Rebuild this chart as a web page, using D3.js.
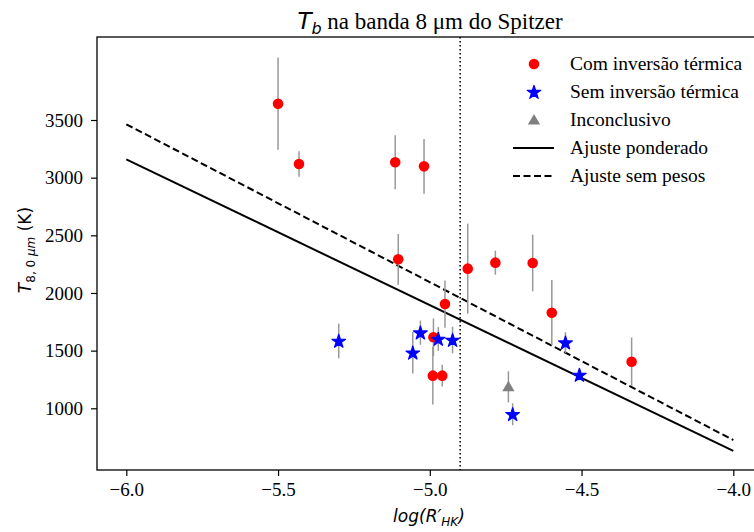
<!DOCTYPE html>
<html><head><meta charset="utf-8">
<script src="https://cdn.jsdelivr.net/npm/d3@7"></script>
<style>body{margin:0;background:#fff}svg{display:block}</style>
</head><body>
<script>
const comX = [-5.50, -5.431, -5.114, -5.019, -5.104, -4.875, -4.784, -4.950, -4.988, -4.990, -4.959, -4.661, -4.598, -4.335];
const comY = [3641, 3118, 3133, 3098, 2292, 2211, 2263, 1904, 1616, 1283, 1283, 2260, 1829, 1404];
const comErr = [400, 110, 234, 237, 220, 390, 104, 205, 163, 250, 95, 246, 283, 210];
const semX = [-5.300, -5.031, -5.056, -4.972, -4.925, -4.727, -4.553, -4.507];
const semY = [1584, 1656, 1482, 1601, 1592, 948, 1569, 1289];
const semErr = [150, 105, 180, 103, 115, 95, 90, 40];
const incX = [-4.741];
const incY = [1187];
const incErr = [135];
const fitX = [-6, -4];
const fitPond = [3159, 630];
const fitSem = [3463, 725];
const vlineX = -4.9;
const xTicks = [-6.0, -5.5, -5.0, -4.5, -4.0];
const yTicks = [1000, 1500, 2000, 2500, 3000, 3500];
const legendLabels = ["Com inversão térmica", "Sem inversão térmica", "Inconclusivo", "Ajuste ponderado", "Ajuste sem pesos"];

(function () {
const W = 754, H = 532;
const mL = 97, mR = 763, mT = 37, mB = 470;
const x = d3.scaleLinear().domain([-6, -4]).range([126.3, 733.3]);
const y = d3.scaleLinear().domain([1000, 3500]).range([408.3, 120]);

const svg = d3.select("body").append("svg").attr("width", W).attr("height", H);
svg.append("defs").append("clipPath").attr("id", "clip")
  .append("rect").attr("x", mL).attr("y", mT).attr("width", mR - mL).attr("height", mB - mT);

const serif = "'Liberation Serif','Times New Roman',serif";
const sans = "'DejaVu Sans',sans-serif";

const plot = svg.append("g").attr("clip-path", "url(#clip)");

plot.append("line").attr("x1", x(vlineX)).attr("x2", x(vlineX)).attr("y1", mT).attr("y2", mB)
  .attr("stroke", "#000").attr("stroke-width", 1.5).attr("stroke-dasharray", "1.5,2.5");

const line = d3.line().x(d => x(d[0])).y(d => y(d[1]));
plot.append("path").datum(fitX.map((v, i) => [v, fitPond[i]])).attr("d", line)
  .attr("fill", "none").attr("stroke", "#000").attr("stroke-width", 2);
plot.append("path").datum(fitX.map((v, i) => [v, fitSem[i]])).attr("d", line)
  .attr("fill", "none").attr("stroke", "#000").attr("stroke-width", 2).attr("stroke-dasharray", "7,3.5");

function errbars(xs, ys, es) {
  plot.append("g").selectAll("line").data(xs.map((v, i) => [v, ys[i], es[i]])).join("line")
    .attr("x1", d => x(d[0])).attr("x2", d => x(d[0]))
    .attr("y1", d => y(d[1] - d[2])).attr("y2", d => y(d[1] + d[2]))
    .attr("stroke", "#999").attr("stroke-width", 1.5);
}
errbars(comX, comY, comErr);
errbars(semX, semY, semErr);
errbars(incX, incY, incErr);

const star = d3.symbol().type(d3.symbolStar).size(58)();
const tri = d3.symbol().type(d3.symbolTriangle).size(65)();

plot.append("g").selectAll("circle").data(comX.map((v, i) => [v, comY[i]])).join("circle")
  .attr("cx", d => x(d[0])).attr("cy", d => y(d[1])).attr("r", 5.3).attr("fill", "#ff0000");
plot.append("g").selectAll("path").data(semX.map((v, i) => [v, semY[i]])).join("path")
  .attr("d", star).attr("transform", d => `translate(${x(d[0])},${y(d[1]) + 0.5})`)
  .attr("fill", "#0000ff").attr("stroke", "#0000ff").attr("stroke-width", 1.2).attr("stroke-linejoin", "round");
plot.append("g").selectAll("path").data(incX.map((v, i) => [v, incY[i]])).join("path")
  .attr("d", tri).attr("transform", d => `translate(${x(d[0])},${y(d[1]) + 1})`).attr("fill", "#808080");

const xAxis = svg.append("g").attr("transform", `translate(0,${mB})`)
  .call(d3.axisBottom(x).tickValues(xTicks).tickSize(6).tickPadding(4).tickFormat(d => d3.format(".1f")(d).replace("-", "\u2212")));
const yAxis = svg.append("g").attr("transform", `translate(${mL},0)`)
  .call(d3.axisLeft(y).tickValues(yTicks).tickSize(6).tickPadding(8).tickFormat(d3.format("d")));
[xAxis, yAxis].forEach(a => {
  a.select(".domain").remove();
  a.selectAll("line").attr("stroke", "#000").attr("stroke-width", 1.2);
  a.selectAll("text").attr("font-family", serif).attr("font-size", 19).attr("fill", "#000");
});
xAxis.selectAll("text").attr("dy", "0.85em");

svg.append("rect").attr("x", mL).attr("y", mT).attr("width", mR - mL).attr("height", mB - mT)
  .attr("fill", "none").attr("stroke", "#000").attr("stroke-width", 1.3);

const title = svg.append("text").attr("x", 430).attr("y", 29).attr("text-anchor", "middle")
  .attr("font-family", serif).attr("font-size", 23);
title.append("tspan").attr("font-family", sans).attr("font-style", "italic").text("T");
title.append("tspan").attr("font-family", sans).attr("font-style", "italic").attr("font-size", 16).attr("dy", 5).text("b");
title.append("tspan").attr("dy", -5).text(" na banda 8 \u03bcm do Spitzer");

const xl = svg.append("text").attr("x", 429).attr("y", 522).attr("text-anchor", "middle")
  .attr("font-family", sans).attr("font-style", "italic").attr("font-size", 17);
xl.append("tspan").text("log(R\u2032");
xl.append("tspan").attr("font-size", 12).attr("dy", 3.5).text("HK");
xl.append("tspan").attr("dy", -3.5).text(")");

const yl = svg.append("text").attr("transform", "translate(31,250) rotate(-90)").attr("text-anchor", "middle")
  .attr("font-family", sans).attr("font-size", 17);
yl.append("tspan").attr("font-style", "italic").text("T");
yl.append("tspan").attr("font-size", 12).attr("dy", 3.5).text("8, 0 ");
yl.append("tspan").attr("font-size", 12).attr("font-style", "italic").text("\u03bcm");
yl.append("tspan").attr("dy", -3.5).text(" (K)");

const lg = svg.append("g");
const rows = [64, 92, 120, 148, 176];
lg.append("circle").attr("cx", 534).attr("cy", rows[0]).attr("r", 5.3).attr("fill", "#ff0000");
lg.append("path").attr("d", star).attr("transform", `translate(534,${rows[1] + 0.5})`)
  .attr("fill", "#0000ff").attr("stroke", "#0000ff").attr("stroke-width", 1.2).attr("stroke-linejoin", "round");
lg.append("path").attr("d", tri).attr("transform", `translate(534,${rows[2] + 1})`).attr("fill", "#808080");
lg.append("line").attr("x1", 513).attr("x2", 554).attr("y1", rows[3]).attr("y2", rows[3]).attr("stroke", "#000").attr("stroke-width", 2);
lg.append("line").attr("x1", 513).attr("x2", 554).attr("y1", rows[4]).attr("y2", rows[4]).attr("stroke", "#000").attr("stroke-width", 2).attr("stroke-dasharray", "7,3.5");
lg.selectAll("text.l").data(legendLabels).join("text").attr("class", "l")
  .attr("x", 570).attr("y", (d, i) => rows[i]).attr("dy", "0.33em")
  .attr("font-family", serif).attr("font-size", 19.5).text(d => d);
})();
</script>
</body></html>
